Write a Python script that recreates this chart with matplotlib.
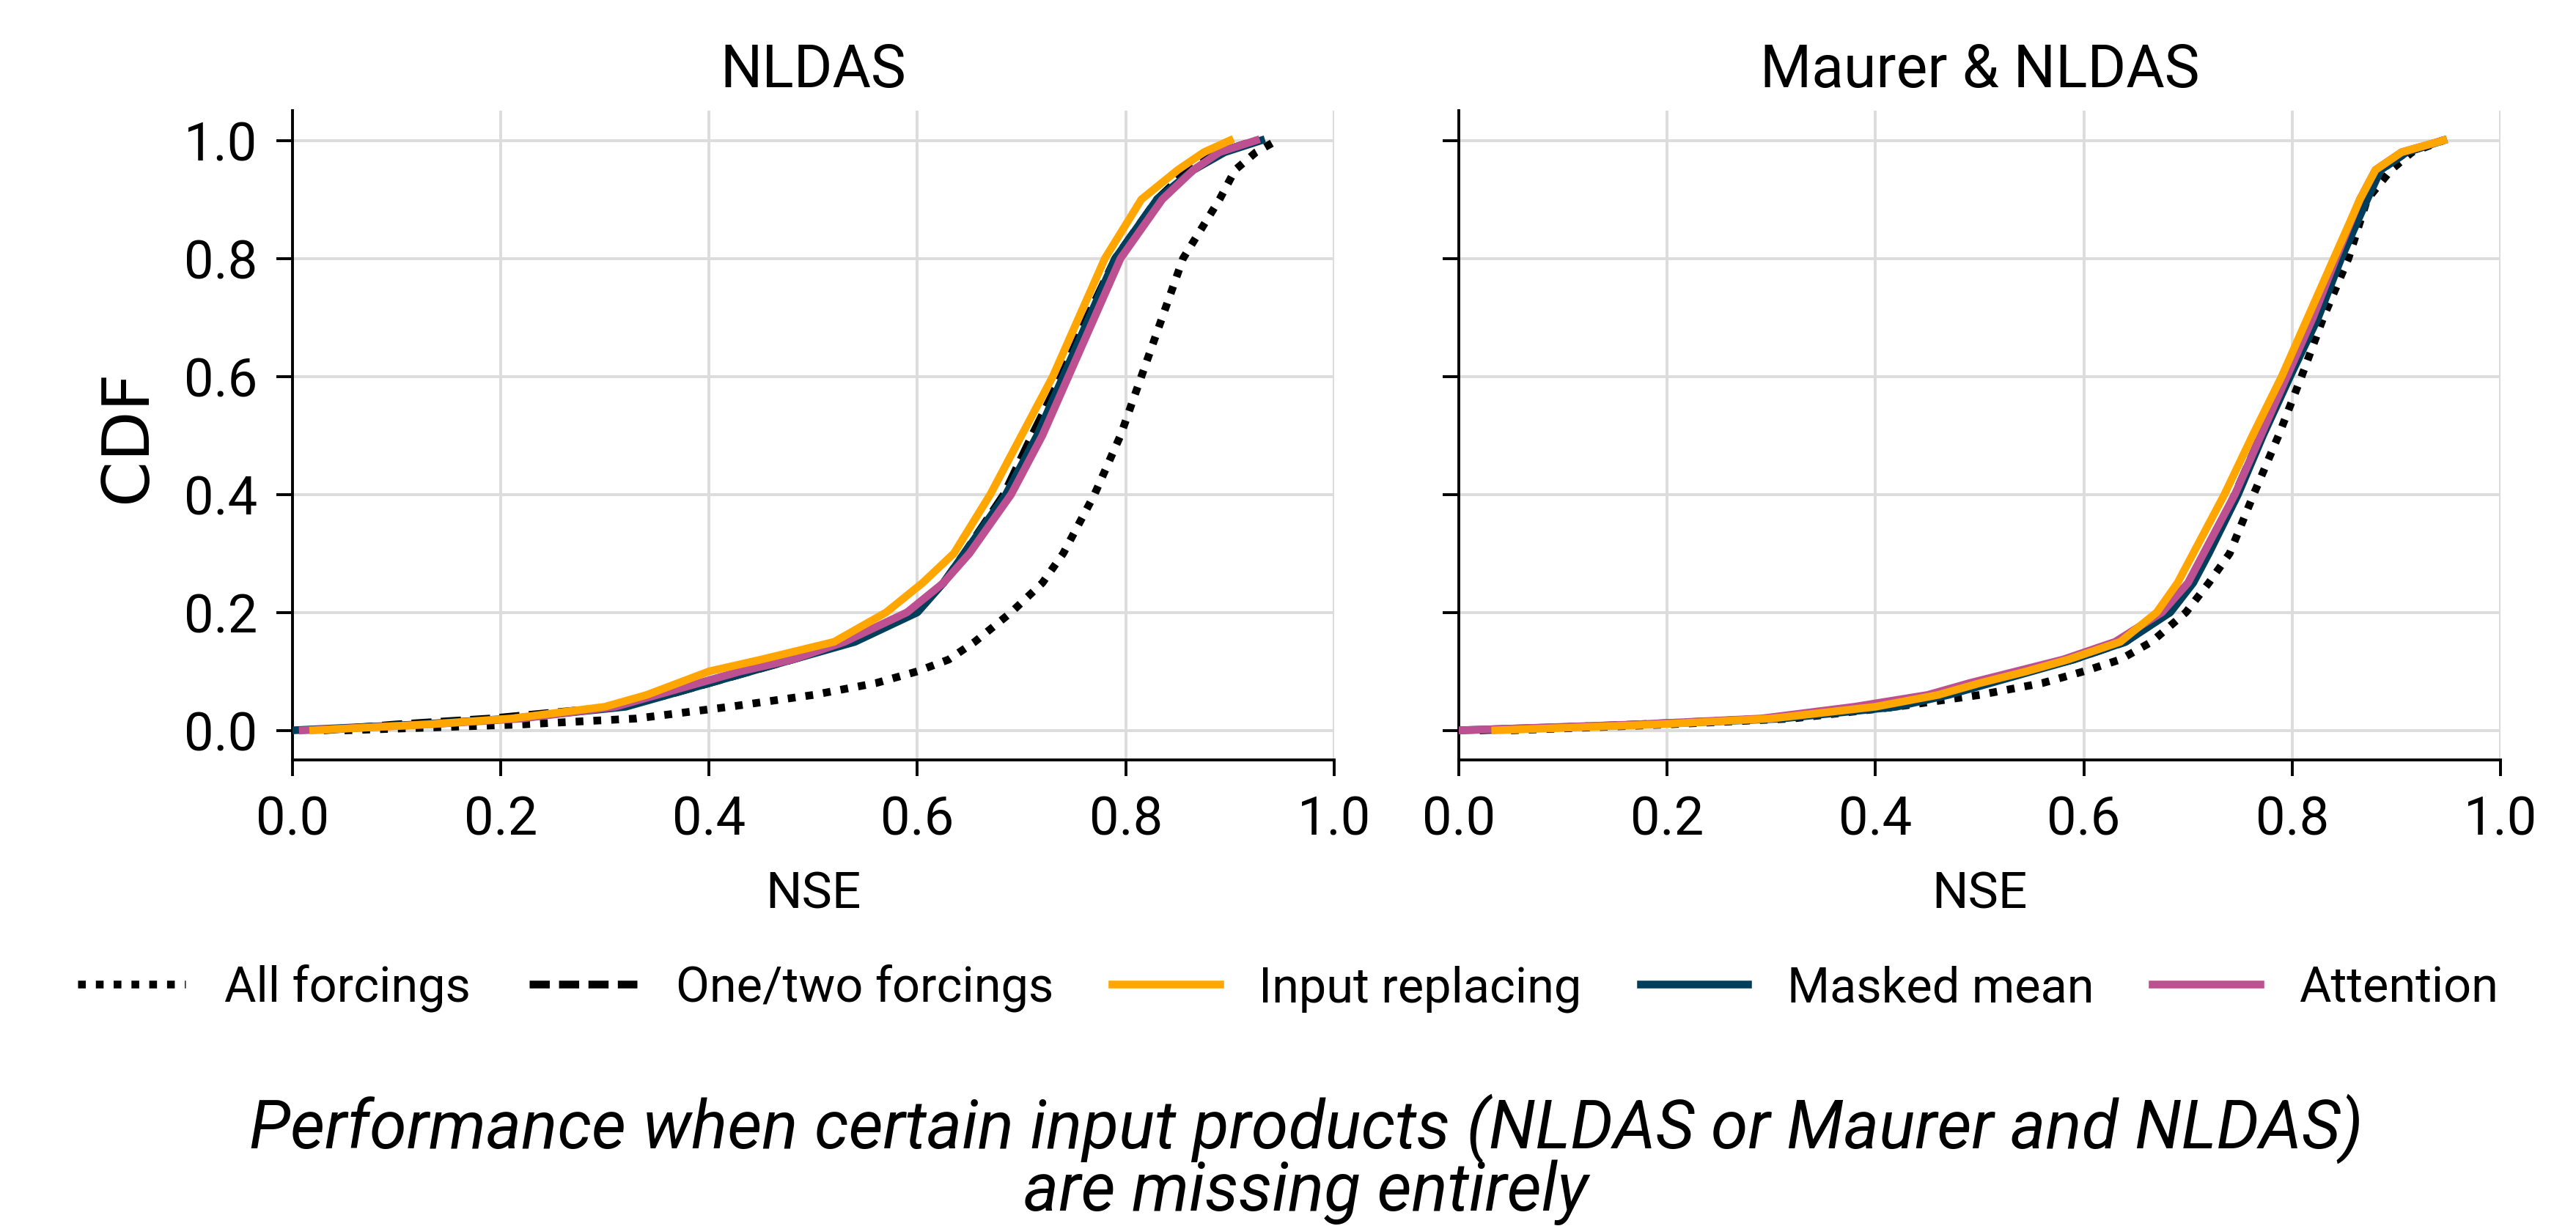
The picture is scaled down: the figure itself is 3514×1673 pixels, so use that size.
import matplotlib
matplotlib.use("Agg")
import matplotlib.pyplot as plt
from matplotlib.lines import Line2D

plt.rcParams['font.family'] = ['Roboto', 'DejaVu Sans']

cdf_levels = [0.0, 0.01, 0.02, 0.04, 0.06, 0.08, 0.10, 0.12, 0.15, 0.20, 0.25,
              0.30, 0.40, 0.50, 0.60, 0.70, 0.80, 0.90, 0.95, 0.98, 1.0]

panel_titles = ["NLDAS", "Maurer & NLDAS"]
series_names = ["All forcings", "One/two forcings", "Input replacing", "Masked mean", "Attention"]

# NLDAS missing
nldas_all = [0.05, 0.22, 0.33, 0.42, 0.50, 0.56, 0.60, 0.63, 0.655, 0.69, 0.72,
             0.74, 0.77, 0.795, 0.815, 0.835, 0.855, 0.89, 0.905, 0.925, 0.945]
nldas_onetwo = [0.03, 0.10, 0.19, 0.31, 0.36, 0.40, 0.44, 0.48, 0.535, 0.595, 0.625,
                0.645, 0.683, 0.71, 0.738, 0.763, 0.79, 0.83, 0.86, 0.89, 0.925]
nldas_replace = [0.02, 0.13, 0.21, 0.30, 0.34, 0.37, 0.40, 0.45, 0.52, 0.57, 0.605,
                 0.635, 0.67, 0.70, 0.73, 0.755, 0.78, 0.815, 0.85, 0.875, 0.90]
nldas_masked = [0.0, 0.12, 0.21, 0.32, 0.36, 0.40, 0.44, 0.48, 0.54, 0.60, 0.625,
                0.645, 0.685, 0.715, 0.74, 0.765, 0.79, 0.83, 0.865, 0.895, 0.93]
nldas_attn = [0.01, 0.13, 0.22, 0.31, 0.35, 0.39, 0.43, 0.48, 0.53, 0.59, 0.625,
              0.65, 0.69, 0.72, 0.745, 0.77, 0.795, 0.835, 0.865, 0.89, 0.925]

# Maurer & NLDAS missing
both_all = [0.05, 0.20, 0.32, 0.42, 0.50, 0.56, 0.60, 0.635, 0.665, 0.698, 0.72,
            0.74, 0.763, 0.787, 0.809, 0.83, 0.854, 0.872, 0.895, 0.915, 0.945]
both_onetwo = [0.02, 0.17, 0.30, 0.39, 0.46, 0.50, 0.545, 0.59, 0.64, 0.68, 0.703,
               0.718, 0.745, 0.77, 0.797, 0.822, 0.845, 0.87, 0.885, 0.91, 0.945]
both_replace = [0.035, 0.19, 0.30, 0.40, 0.46, 0.50, 0.545, 0.585, 0.635, 0.67, 0.69,
                0.705, 0.735, 0.762, 0.79, 0.815, 0.84, 0.865, 0.88, 0.905, 0.945]
both_masked = [0.0, 0.18, 0.31, 0.42, 0.47, 0.51, 0.55, 0.59, 0.64, 0.683, 0.705,
               0.72, 0.748, 0.772, 0.798, 0.825, 0.847, 0.872, 0.885, 0.91, 0.945]
both_attn = [0.0, 0.17, 0.29, 0.38, 0.45, 0.49, 0.535, 0.58, 0.63, 0.675, 0.70,
             0.715, 0.745, 0.77, 0.795, 0.82, 0.842, 0.865, 0.88, 0.905, 0.945]

panels = [
    [nldas_all, nldas_onetwo, nldas_replace, nldas_masked, nldas_attn],
    [both_all, both_onetwo, both_replace, both_masked, both_attn],
]

colors = ["black", "black", "#ffa600", "#003f5c", "#bc5090"]
styles = [(0, (1, 1.3)), (0, (2.6, 1.2)), "-", "-", "-"]
zorders = [2, 3, 6, 4, 5]

fig = plt.figure(figsize=(17.57, 8.37), dpi=200)
ax_left = fig.add_axes([0.1135, 0.380, 0.4044, 0.529])
ax_right = fig.add_axes([0.5663, 0.380, 0.4044, 0.529], sharey=ax_left)

for ax, title, curves in zip([ax_left, ax_right], panel_titles, panels):
    for nse, c, ls, z in zip(curves, colors, styles, zorders):
        ax.plot(nse, cdf_levels, color=c, linestyle=ls, lw=3.8, zorder=z,
                solid_joinstyle="round")
    ax.set_xlim(0, 1)
    ax.set_ylim(-0.05, 1.05)
    ax.set_xticks([0, 0.2, 0.4, 0.6, 0.8, 1.0])
    ax.set_yticks([0, 0.2, 0.4, 0.6, 0.8, 1.0])
    ax.grid(True, color="#dcdcdc", lw=1.4)
    ax.set_axisbelow(True)
    for s in ["top", "right"]:
        ax.spines[s].set_visible(False)
    for s in ["left", "bottom"]:
        ax.spines[s].set_linewidth(1.4)
    ax.tick_params(labelsize=26, length=8, width=1.4, pad=9)
    ax.set_title(title, fontsize=29, pad=12)
    ax.set_xlabel("NSE", fontsize=25, labelpad=12)

ax_left.set_ylabel("CDF", fontsize=32, family="DejaVu Sans", labelpad=12)
ax_right.tick_params(labelleft=False)

handles = [Line2D([], [], color=c, linestyle=ls, lw=3.8) for c, ls in zip(colors, styles)]
fig.legend(handles, series_names, loc="center", bbox_to_anchor=(0.5, 0.194),
           ncol=5, frameon=False, fontsize=24, handlelength=2.2,
           handletextpad=0.8, columnspacing=1.2)

fig.text(0.507, 0.080, "Performance when certain input products (NLDAS or Maurer and NLDAS)",
         ha="center", va="center", fontsize=33, style="italic")
fig.text(0.507, 0.028, "are missing entirely",
         ha="center", va="center", fontsize=33, style="italic")

fig.savefig("out.png", dpi=200)
